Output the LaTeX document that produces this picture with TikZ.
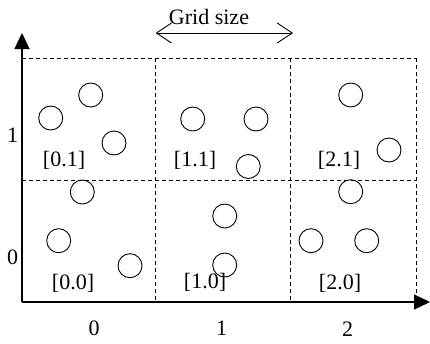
\documentclass[tikz,border=0pt]{standalone}
\usepackage{fontspec}
\setmainfont{Liberation Serif}
\usetikzlibrary{arrows.meta}
\begin{document}
\begin{tikzpicture}[x=1pt,y=-1pt,
  dot/.style={draw,circle,minimum size=24pt,inner sep=0pt,line width=0.9pt},
  lab/.style={font=\fontsize{22}{26}\selectfont,inner sep=0pt},
  gridline/.style={line width=0.8pt,dash pattern=on 4pt off 3pt},
  axis/.style={line width=1.2pt,-{Triangle[length=16pt,width=15pt]}}]
\useasboundingbox (0,0) rectangle (430,343);
% grid
\coordinate (g00) at (22,58);
\coordinate (g10) at (155.7,58);
\coordinate (g20) at (290,58);
\coordinate (g30) at (416.7,58);
\coordinate (m0) at (22,180);
\coordinate (m3) at (416.7,180);
\coordinate (b1) at (155.7,302);
\coordinate (b2) at (290,302);
\coordinate (b3) at (416.7,302);
\draw[gridline] (g00) -- (g30);
\draw[gridline] (m0) -- (m3);
\draw[gridline] (g10) -- (b1);
\draw[gridline] (g20) -- (b2);
\draw[gridline] (g30) -- (b3);
% axes
\coordinate (O) at (22,302);
\coordinate (ytip) at (22,33);
\coordinate (xtip) at (430,302);
\draw[axis] (O) -- (ytip);
\draw[axis] (O) -- (xtip);
% grid size arrow
\coordinate (gsL) at (155.7,33);
\coordinate (gsR) at (293,33);
\draw[line width=0.9pt,{Straight Barb[length=15pt,width=20pt]}-{Straight Barb[length=15pt,width=20pt]}] (gsL) -- (gsR);
\node[lab] (gs) at (209,17) {Grid size};
% circles
\node[dot] (a1) at (50.7,118) {};
\node[dot] (a2) at (90.7,95) {};
\node[dot] (a3) at (114,143) {};
\node[dot] (b1c) at (192.7,119) {};
\node[dot] (b2c) at (256,119) {};
\node[dot] (b3c) at (248.3,166.5) {};
\node[dot] (c1) at (350.7,95) {};
\node[dot] (c2) at (389,150) {};
\node[dot] (d1) at (82.3,192) {};
\node[dot] (d2) at (58.7,240.7) {};
\node[dot] (d3) at (130,265.7) {};
\node[dot] (e1) at (224.7,216) {};
\node[dot] (e2) at (224.7,265) {};
\node[dot] (f1) at (350.7,191.7) {};
\node[dot] (f2) at (311,240.7) {};
\node[dot] (f3) at (366.7,240.7) {};
% cell labels
\node[lab] (l01) at (64,160.7) {[0.1]};
\node[lab] (l11) at (195,160.7) {[1.1]};
\node[lab] (l21) at (339,160.7) {[2.1]};
\node[lab] (l00) at (73,283) {[0.0]};
\node[lab] (l10) at (205,282.5) {[1.0]};
\node[lab] (l20) at (340,283) {[2.0]};
% axis labels
\node[lab] (y1) at (12.7,135) {1};
\node[lab] (y0) at (12.7,257) {0};
\node[lab] (x0) at (94,328) {0};
\node[lab] (x1) at (221.7,328) {1};
\node[lab] (x2) at (347.7,329) {2};
\end{tikzpicture}
\end{document}
